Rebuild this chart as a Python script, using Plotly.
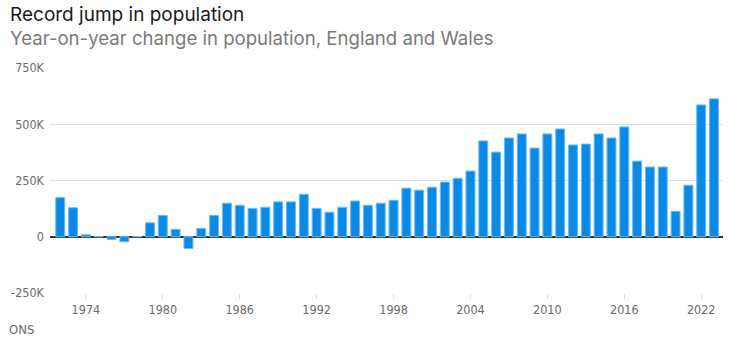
import plotly.graph_objects as go

years = list(range(1972, 2024))
change = [
    174000, 129000, 9000, 1000, -12000, -22000, 1000, 62000, 95000, 33000,
    -52000, 37000, 95000, 149000, 140000, 126000, 131000, 155000, 155000, 189000,
    126000, 109000, 131000, 159000, 140000, 149000, 162000, 216000, 207000, 220000,
    243000, 260000, 292000, 426000, 376000, 439000, 457000, 394000, 457000, 479000,
    408000, 412000, 457000, 439000, 488000, 336000, 310000, 310000, 113000, 229000,
    586000, 613000,
]
y_tickvals = [-250000, 0, 250000, 500000, 750000]
y_ticktext = ["-250K", "0", "250K", "500K", "750K"]
x_tickvals = list(range(1974, 2023, 6))

title = "Record jump in population"
subtitle = "Year-on-year change in population, England and Wales"
source = "ONS"

W, H = 753, 352
L, R, T, B = 50, 30, 68, 59
pw = W - L - R
ph = H - T - B

cond = "Liberation Sans Narrow, DejaVu Sans Condensed, Roboto Condensed, Arial Narrow, Roboto, sans-serif"
tick_color = "#6f6a66"

fig = go.Figure()
fig.add_trace(go.Bar(
    x=years, y=change,
    marker=dict(color="#0a8ae6", line=dict(color="#6dbdf2", width=1)),
    hoverinfo="x+y",
))

fig.update_layout(
    width=W, height=H,
    margin=dict(l=L, r=R, t=T, b=B),
    paper_bgcolor="white", plot_bgcolor="white",
    bargap=0.3,
    showlegend=False,
    xaxis=dict(
        range=[1971.2, 2023.7],
        tickvals=x_tickvals,
        ticks="outside", ticklen=5, tickcolor="#dcdcdc", tickwidth=1,
        showgrid=False, zeroline=False, showline=False,
        tickfont=dict(family=cond, size=12.5, color=tick_color),
    ),
    yaxis=dict(
        range=[-250000, 750000],
        tickvals=y_tickvals, ticktext=y_ticktext,
        showgrid=True, gridcolor="#e0e0e0", gridwidth=1,
        zeroline=True, zerolinecolor="#333333", zerolinewidth=1.5,
        showline=False, ticks="", ticklabelstandoff=5,
        tickfont=dict(family=cond, size=12.5, color=tick_color),
    ),
)

def px_x(x):
    return (x - L) / pw

def px_y(y):
    return 1 - (y - T) / ph

fig.add_annotation(text=title, xref="paper", yref="paper",
                   x=px_x(8), y=px_y(14), xanchor="left", yanchor="middle",
                   showarrow=False,
                   font=dict(family="Inter, Roboto, sans-serif", size=19, color="#1a1a1a"))
fig.add_annotation(text=subtitle, xref="paper", yref="paper",
                   x=px_x(8), y=px_y(38), xanchor="left", yanchor="middle",
                   showarrow=False,
                   font=dict(family="Inter, Roboto, sans-serif", size=18.6, color="#7a7a7a"))
fig.add_annotation(text=source, xref="paper", yref="paper",
                   x=px_x(7), y=px_y(329), xanchor="left", yanchor="middle",
                   showarrow=False,
                   font=dict(family=cond, size=13, color=tick_color))

fig.write_html("out.html")
